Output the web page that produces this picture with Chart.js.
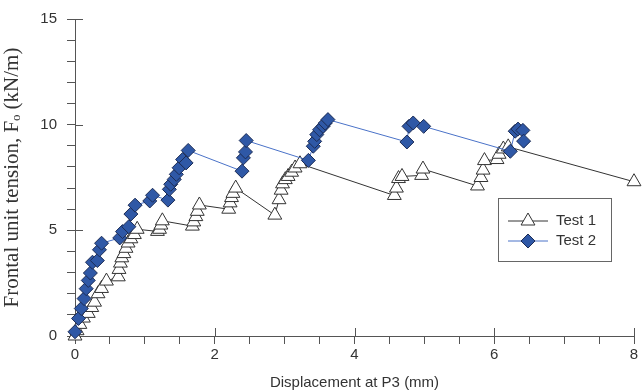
<!DOCTYPE html>
<html>
<head>
<meta charset="utf-8">
<script src="https://cdn.jsdelivr.net/npm/chart.js@4"></script>
<style>
  html, body { margin: 0; padding: 0; background: #fff; }
  #wrap { width: 643px; height: 392px; }
</style>
</head>
<body>
<div id="wrap"><canvas id="chart" width="643" height="392"></canvas></div>
<script>
// Test 1 (triangles)
const test1Disp = [0.00, 0.03, 0.07, 0.12, 0.19, 0.24, 0.28, 0.33, 0.38, 0.45,
    0.62, 0.63, 0.65, 0.67, 0.70, 0.73, 0.76, 0.80, 0.85, 0.89,
    1.18, 1.21, 1.23, 1.25, 1.68, 1.70, 1.73, 1.75, 1.78,
    2.20, 2.22, 2.24, 2.26, 2.30, 2.86, 2.92, 2.95, 2.97, 3.01, 3.05, 3.10, 3.15, 3.22,
    4.57, 4.60, 4.63, 4.68, 4.96, 4.98, 5.76, 5.81, 5.84, 5.86, 6.04, 6.07, 6.13, 6.20, 8.00];
const test1Tension = [0.00, 0.25, 0.55, 0.85, 1.07, 1.35, 1.60, 2.00, 2.25, 2.60,
    2.80, 3.15, 3.45, 3.70, 3.90, 4.15, 4.40, 4.60, 4.80, 5.05,
    4.95, 5.05, 5.25, 5.45, 5.20, 5.40, 5.65, 5.90, 6.20,
    6.00, 6.30, 6.55, 6.75, 7.00, 5.72, 6.45, 6.90, 7.20, 7.40, 7.55, 7.75, 7.95, 8.15,
    6.65, 7.00, 7.45, 7.55, 7.60, 7.90, 7.10, 7.50, 7.85, 8.30, 8.35, 8.60, 8.85, 8.95, 7.30];

// Test 2 (diamonds)
const test2Disp = [0.00, 0.05, 0.09, 0.13, 0.16, 0.19, 0.22, 0.25, 0.32, 0.35, 0.38,
    0.64, 0.68, 0.77, 0.80, 0.86, 1.07, 1.11,
    1.33, 1.35, 1.37, 1.42, 1.45, 1.49, 1.54, 1.59, 1.62,
    2.39, 2.41, 2.44, 2.45, 3.34, 3.41, 3.43, 3.46, 3.50, 3.55, 3.58, 3.62,
    4.75, 4.78, 4.84, 4.99, 6.23, 6.30, 6.34, 6.41, 6.42];
const test2Tension = [0.20, 0.83, 1.30, 1.77, 2.24, 2.63, 2.98, 3.49, 3.57, 4.08, 4.39,
    4.64, 4.94, 5.17, 5.77, 6.19, 6.39, 6.66,
    6.43, 6.94, 7.18, 7.41, 7.65, 7.96, 8.35, 8.19, 8.78,
    7.80, 8.43, 8.71, 9.25, 8.31, 8.98, 9.21, 9.53, 9.76, 9.92, 10.07, 10.24,
    9.18, 9.92, 10.08, 9.92, 8.74, 9.69, 9.79, 9.73, 9.22];

const seriesNames = ['Test 1', 'Test 2'];
const xMajorTicks = [0, 2, 4, 6, 8];
const yMajorTicks = [0, 5, 10, 15];

const toPoints = (xs, ys) => xs.map((x, i) => ({ x: x, y: ys[i] }));

const axisColor = '#555';
const textColor = '#333';

// legend box drawn inside the plot, like the original figure
const boxLegend = {
    id: 'boxLegend',
    afterDatasetsDraw(chart) {
        const ctx = chart.ctx;
        const left = 498, top = 198, w = 113, h = 63;
        ctx.save();
        ctx.fillStyle = '#fff';
        ctx.fillRect(left, top, w, h);
        ctx.strokeStyle = '#666';
        ctx.lineWidth = 1;
        ctx.strokeRect(left + 0.5, top + 0.5, w, h);
        chart.data.datasets.forEach((ds, i) => {
            const y = top + 23 + i * 20;
            ctx.strokeStyle = ds.borderColor;
            ctx.lineWidth = 1;
            ctx.beginPath();
            ctx.moveTo(508, y);
            ctx.lineTo(548, y);
            ctx.stroke();
            ctx.fillStyle = ds.pointBackgroundColor;
            ctx.strokeStyle = ds.pointBorderColor;
            Chart.helpers.drawPoint(ctx, { pointStyle: ds.pointStyle, radius: ds.pointRadius, borderWidth: 1 }, 528, y);
            ctx.fillStyle = textColor;
            ctx.font = '15px "Liberation Sans", Arial, sans-serif';
            ctx.textBaseline = 'middle';
            ctx.fillText(ds.label, 556, y);
        });
        ctx.restore();
    }
};

// major ticks also poke into the plot area
const innerTicks = {
    id: 'innerTicks',
    afterDraw(chart) {
        const ctx = chart.ctx;
        const xs = chart.scales.x, ys = chart.scales.y;
        ctx.save();
        ctx.strokeStyle = axisColor;
        ctx.lineWidth = 1;
        ctx.beginPath();
        xMajorTicks.forEach(v => {
            if (v === 0) return;
            const px = Math.round(xs.getPixelForValue(v)) + 0.5;
            ctx.moveTo(px, ys.bottom);
            ctx.lineTo(px, ys.bottom - 8);
        });
        yMajorTicks.forEach(v => {
            if (v === 0) return;
            const py = Math.round(ys.getPixelForValue(v)) + 0.5;
            ctx.moveTo(xs.left, py);
            ctx.lineTo(xs.left + 8, py);
        });
        ctx.stroke();
        ctx.restore();
    }
};

new Chart(document.getElementById('chart').getContext('2d'), {
    type: 'line',
    data: {
        datasets: [{
            label: seriesNames[0],
            data: toPoints(test1Disp, test1Tension),
            borderColor: '#333',
            borderWidth: 1,
            pointStyle: 'triangle',
            pointRadius: 8,
            pointBackgroundColor: '#fff',
            pointBorderColor: '#333',
            pointBorderWidth: 1,
            tension: 0,
            clip: false,
            order: 1
        }, {
            label: seriesNames[1],
            data: toPoints(test2Disp, test2Tension),
            borderColor: '#4a72c8',
            borderWidth: 1,
            pointStyle: 'rectRot',
            pointRadius: 7,
            pointBackgroundColor: '#2f58a6',
            pointBorderColor: '#1c2c55',
            pointBorderWidth: 1,
            tension: 0,
            clip: false,
            order: 0
        }]
    },
    options: {
        responsive: false,
        animation: false,
        layout: { padding: { top: 17, right: 4, left: 0, bottom: 0 } },
        plugins: {
            legend: { display: false },
            tooltip: { enabled: false }
        },
        scales: {
            x: {
                type: 'linear',
                min: 0,
                max: 8,
                afterFit: s => { s.height = 56; s.paddingRight = 0; s.paddingLeft = 0; },
                border: { color: axisColor, width: 1 },
                grid: { drawOnChartArea: false, tickLength: 8, color: axisColor },
                ticks: {
                    stepSize: 0.5,
                    autoSkip: false,
                    maxRotation: 0,
                    padding: 2,
                    color: textColor,
                    font: { family: '"Liberation Sans", Arial, sans-serif', size: 15 },
                    callback: v => (xMajorTicks.includes(v) ? String(v) : '')
                },
                title: {
                    display: true,
                    text: 'Displacement at P3 (mm)',
                    color: textColor,
                    padding: { top: 4, bottom: 0 },
                    font: { family: '"Liberation Sans", Arial, sans-serif', size: 15 }
                }
            },
            y: {
                type: 'linear',
                min: 0,
                max: 15,
                afterFit: s => { s.width = 75; },
                border: { color: axisColor, width: 1 },
                grid: { drawOnChartArea: false, tickLength: 8, color: axisColor },
                ticks: {
                    stepSize: 1,
                    autoSkip: false,
                    padding: 10,
                    color: textColor,
                    font: { family: '"Liberation Sans", Arial, sans-serif', size: 15 },
                    callback: v => (yMajorTicks.includes(v) ? String(v) : '')
                },
                title: {
                    display: true,
                    text: 'Frontal unit tension, F\u2092 (kN/m)',
                    color: textColor,
                    padding: { top: 0, bottom: 6 },
                    font: { family: '"Liberation Serif", "Times New Roman", serif', size: 21 }
                }
            }
        }
    },
    plugins: [innerTicks, boxLegend]
});
</script>
</body>
</html>
